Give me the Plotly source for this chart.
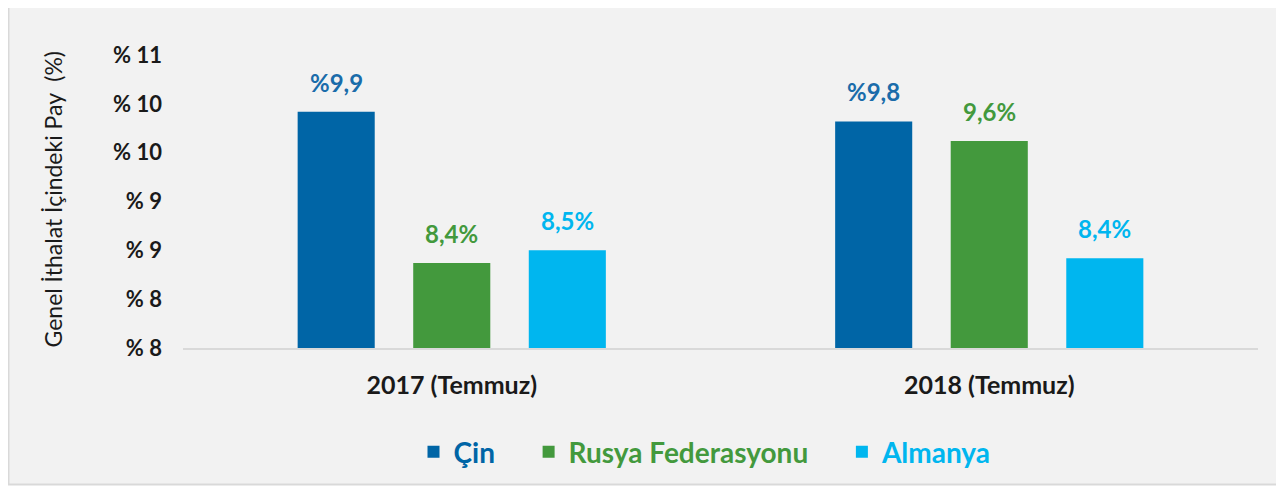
import plotly.graph_objects as go

categories = ["2017 (Temmuz)", "2018 (Temmuz)"]
series_names = ["Çin", "Rusya Federasyonu", "Almanya"]
cin = [9.92, 9.82]
rusya = [8.37, 9.62]
almanya = [8.50, 8.42]
cin_labels = ["%9,9", "%9,8"]
rusya_labels = ["8,4%", "9,6%"]
almanya_labels = ["8,5%", "8,4%"]
y_tickvals = [7.5, 8.0, 8.5, 9.0, 9.5, 10.0, 10.5]
y_ticktext = ["% 8", "% 8", "% 9", "% 9", "% 10", "% 10", "% 11"]

colors = ["#0065A6", "#43993D", "#00B6EF"]
label_colors = ["#1A6CAA", "#43993D", "#00B6EF"]
FONT = "Lato, sans-serif"
BARGAP = 0.355

values = [cin, rusya, almanya]
labels = [cin_labels, rusya_labels, almanya_labels]

# figure pixel geometry (page has an 8px body margin)
W, H = 1276, 479
L, R, T, B = 175, 26, 47, 138
PW, PH = W - L - R, H - T - B

fig = go.Figure()
GAP = "&nbsp;" * 4
for k, (name, vals, col) in enumerate(zip(series_names, values, colors)):
    suffix = GAP if k < len(series_names) - 1 else ""
    fig.add_trace(go.Bar(
        x=categories, y=vals,
        name=f"<span style='color:{col}'><b>{name}</b></span>{suffix}",
        marker=dict(color=col, line=dict(width=0)),
    ))

# data labels above bars
n = len(series_names)
slot = (1 - BARGAP) / n
for j, (vals, labs, col) in enumerate(zip(values, labels, label_colors)):
    for i, (v, t) in enumerate(zip(vals, labs)):
        fig.add_annotation(
            x=i + (j - (n - 1) / 2) * slot, y=v, xref="x", yref="y",
            text=f"<b>{t}</b>", showarrow=False, yanchor="bottom", yshift=13,
            font=dict(family=FONT, size=24, color=col),
        )

# y axis title
fig.add_annotation(
    x=(45 - L) / PW, y=(H - B - 192) / PH, xref="paper", yref="paper",
    xanchor="center", yanchor="middle",
    text="Genel İthalat İçindeki Pay  (%)",
    textangle=-90, showarrow=False, font=dict(family=FONT, size=23, color="#1a1a1a"),
)

# outer background frame
fig.add_shape(type="rect", xref="paper", yref="paper",
              x0=(0.5 - L) / PW, x1=(W - 1 - L) / PW,
              y0=(H - B - (H - 1)) / PH, y1=(H - B + 3) / PH,
              fillcolor="#F2F2F2", line=dict(color="#D9D9D9", width=2), layer="below")

fig.update_layout(
    width=W, height=H,
    margin=dict(l=L, r=R, t=T, b=B),
    paper_bgcolor="white", plot_bgcolor="rgba(0,0,0,0)",
    barmode="group", bargap=BARGAP, bargroupgap=0.333,
    font=dict(family=FONT, color="#1a1a1a"),
    showlegend=True,
    legend=dict(orientation="h", x=(697 - L) / PW, xanchor="center", y=(H - B - 444) / PH,
                yanchor="middle",
                font=dict(family=FONT, size=28, color="#1a1a1a"), bgcolor="rgba(0,0,0,0)",
                itemclick=False),
    xaxis=dict(showline=True, linecolor="#D9D9D9", linewidth=1.5, ticks="",
               tickfont=dict(family=FONT, size=25, color="#1a1a1a"), ticklabelstandoff=14,
               tickprefix="<b>", ticksuffix="</b>"),
    yaxis=dict(range=[7.5, 10.5], tickvals=y_tickvals, ticktext=[f"<b>{t}</b>" for t in y_ticktext],
               showgrid=False, zeroline=False, showline=False, ticks="",
               tickfont=dict(family=FONT, size=22, color="#1a1a1a"), ticklabelstandoff=20),
)

fig.write_html("out.html")
